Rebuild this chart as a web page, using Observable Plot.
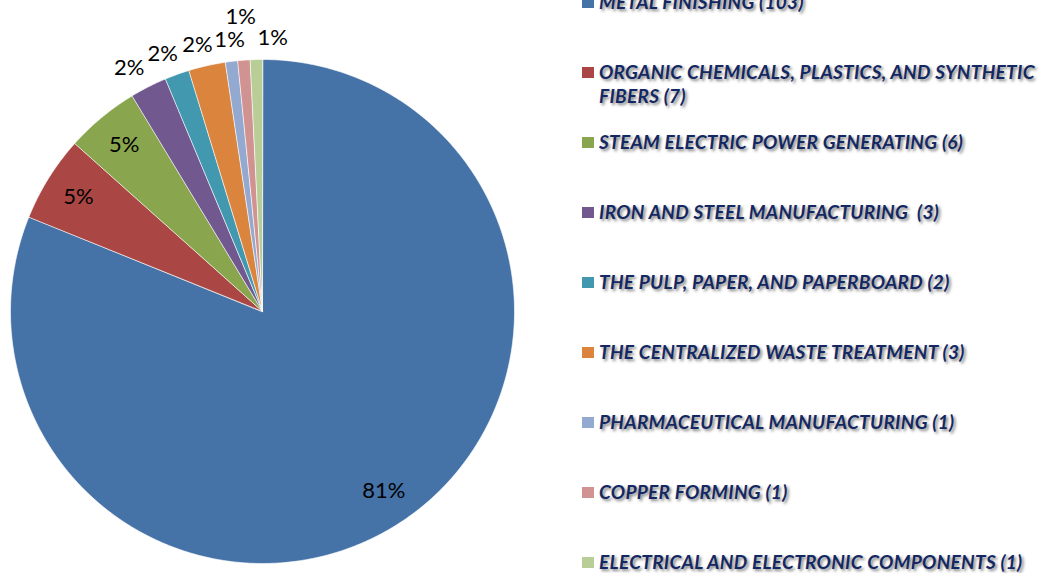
<!DOCTYPE html>
<html><head><meta charset="utf-8">
<script src="https://cdn.jsdelivr.net/npm/d3@7"></script>
<script src="https://cdn.jsdelivr.net/npm/@observablehq/plot@0.6"></script>
<style>
html,body{margin:0;padding:0;background:#fff;}
#wrap{position:relative;width:1039px;height:573px;overflow:hidden;}
#wrap svg{position:absolute;left:0;top:0;}
.item{position:absolute;left:582px;width:457px;display:flex;align-items:flex-start;}
.sw{width:12px;height:11px;flex:none;margin-top:7px;}
.lab{margin-left:5px;width:440px;font-family:Lato,sans-serif;font-style:italic;font-weight:bold;font-size:19px;letter-spacing:0.3px;color:#132863;line-height:24.5px;white-space:pre-wrap;text-shadow:2px 2px 3px rgba(0,0,0,0.5);}
</style></head>
<body><div id="wrap"></div>
<script>
const categories = [
  "METAL FINISHING",
  "ORGANIC CHEMICALS, PLASTICS, AND SYNTHETIC FIBERS",
  "STEAM ELECTRIC POWER GENERATING",
  "IRON AND STEEL MANUFACTURING ",
  "THE PULP, PAPER, AND PAPERBOARD",
  "THE CENTRALIZED WASTE TREATMENT",
  "PHARMACEUTICAL MANUFACTURING",
  "COPPER FORMING",
  "ELECTRICAL AND ELECTRONIC COMPONENTS"
];
const counts = [103, 7, 6, 3, 2, 3, 1, 1, 1];
const percentLabels = ["81%", "5%", "5%", "2%", "2%", "2%", "1%", "1%", "1%"];
const colors = ["#4572A7", "#AA4643", "#89A54E", "#71588F", "#4198AF", "#DB843D", "#93A9CF", "#D19392", "#B9CD96"];

const total = d3.sum(counts);
const arcs = d3.pie().sort(null).value(d => d)(counts);

// slice polygons in unit-circle coordinates (y up)
const features = arcs.map((a, i) => {
  const n = Math.max(8, Math.ceil((a.endAngle - a.startAngle) / (Math.PI / 360)));
  const ring = [[0, 0]];
  for (let k = 0; k <= n; k++) {
    const t = a.startAngle + (a.endAngle - a.startAngle) * k / n;
    ring.push([Math.sin(t), Math.cos(t)]);
  }
  ring.push([0, 0]);
  return {type: "Feature", properties: {color: colors[i], name: categories[i]}, geometry: {type: "Polygon", coordinates: [ring]}};
});

// percentage label placement: inside for big slices, outside with simple collision avoidance otherwise
const A = 0.167, B = 0.085, W = 0.127, H = 0.087;
const placed = [];
const labelData = arcs.map((a, i) => {
  const mid = (a.startAngle + a.endAngle) / 2;
  const ex = Math.sin(mid), ey = Math.cos(mid);
  if (counts[i] / total > 0.04) return {x: 0.86 * ex, y: 0.86 * ey, label: percentLabels[i]};
  const bx = ex + A * ex, by = ey + B * ey;
  const p = [bx, by];
  let movedUp = false;
  for (let iter = 0; iter < 20; iter++) {
    const q = placed.find(q => Math.abs(q[0] - p[0]) < W && Math.abs(q[1] - p[1]) < H);
    if (!q) break;
    const need = q[0] + W - p[0];
    if (need > W / 2 && !movedUp) { p[0] = bx; p[1] = by + H; movedUp = true; }
    else p[0] += need;
  }
  placed.push(p);
  return {x: p[0], y: p[1], label: percentLabels[i]};
});

const chart = Plot.plot({
  width: 1039,
  height: 573,
  marginTop: 59,
  marginBottom: 10,
  marginLeft: 10,
  marginRight: 525,
  projection: {type: "reflect-y", domain: {type: "FeatureCollection", features}, clip: false},
  color: {type: "identity"},
  style: {fontFamily: "Lato, sans-serif", background: "white"},
  marks: [
    Plot.geo(features, {fill: d => d.properties.color, stroke: "white", strokeWidth: 0.8, strokeOpacity: 0.8}),
    Plot.text(labelData, {x: "x", y: "y", text: "label", fontSize: 22, fill: "black", fontFamily: "Lato, sans-serif", clip: false})
  ]
});
const wrap = document.getElementById("wrap");
wrap.appendChild(chart);

// legend
categories.forEach((c, i) => {
  const item = document.createElement("div");
  item.className = "item";
  item.style.top = (2 + 70 * i - 12.25) + "px";
  const sw = document.createElement("div");
  sw.className = "sw";
  sw.style.background = colors[i];
  const lab = document.createElement("div");
  lab.className = "lab";
  lab.textContent = `${c} (${counts[i]})`;
  item.appendChild(sw);
  item.appendChild(lab);
  wrap.appendChild(item);
});
</script>
</body></html>
